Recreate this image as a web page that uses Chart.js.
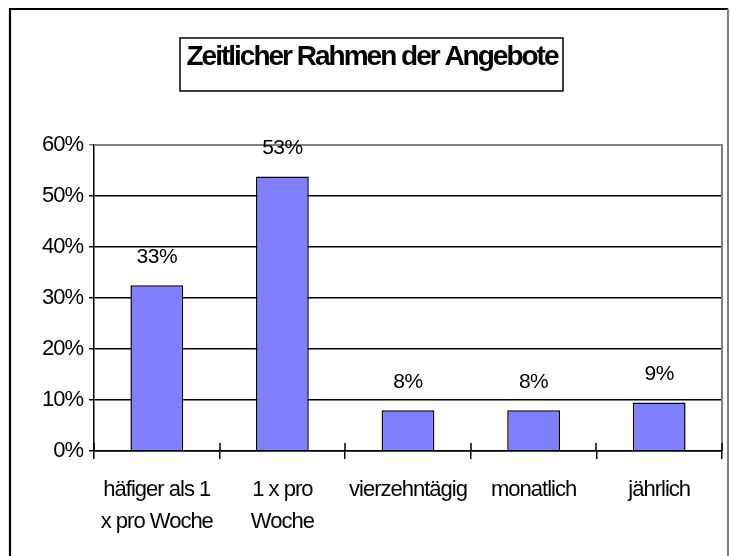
<!DOCTYPE html>
<html>
<head>
<meta charset="utf-8">
<script src="https://cdn.jsdelivr.net/npm/chart.js@4.4.0/dist/chart.umd.min.js"></script>
<style>
  body { margin: 0; background: #fff; }
  #wrap { width: 730px; height: 556px; position: relative; }
</style>
</head>
<body>
<div id="wrap"><canvas id="chart"></canvas></div>
<script>
const chartTitle = 'Zeitlicher Rahmen der Angebote';
const categories = [
    ['häfiger als 1', 'x pro Woche'],
    ['1 x pro', 'Woche'],
    'vierzehntägig',
    'monatlich',
    'jährlich'
];
const shares = [32.5, 53.8, 8, 8, 9.5];
const shareLabels = ['33%', '53%', '8%', '8%', '9%'];
const yTicks = [0, 10, 20, 30, 40, 50, 60];

const FONT = "'Liberation Sans', Arial, sans-serif";

// frame, title box and plot border
const decorPlugin = {
    id: 'decor',
    beforeDraw(chart) {
        const ctx = chart.ctx;
        ctx.letterSpacing = '-1px';
        ctx.save();
        ctx.fillStyle = '#fff';
        ctx.fillRect(0, 0, chart.width, chart.height);
        // outer frame
        ctx.lineWidth = 2.2;
        ctx.strokeStyle = '#000';
        ctx.beginPath();
        ctx.moveTo(10, 560);
        ctx.lineTo(10, 9);
        ctx.lineTo(728, 9);
        ctx.stroke();
        ctx.strokeStyle = '#808080';
        ctx.lineWidth = 2;
        ctx.beginPath();
        ctx.moveTo(728, 9);
        ctx.lineTo(728, 560);
        ctx.stroke();
        // title box
        ctx.strokeStyle = '#000';
        ctx.lineWidth = 1.5;
        ctx.strokeRect(180, 38, 383, 53);
        ctx.fillStyle = '#000';
        ctx.font = 'bold 28px ' + FONT;
        ctx.letterSpacing = '-2px';
        ctx.textAlign = 'center';
        ctx.textBaseline = 'middle';
        ctx.fillText(chartTitle, 372, 57);
        ctx.restore();
    },
    afterDraw(chart) {
        const ctx = chart.ctx;
        const a = chart.chartArea;
        const x = chart.scales.x;
        ctx.save();
        // plot border top and right
        ctx.strokeStyle = '#808080';
        ctx.lineWidth = 2;
        ctx.beginPath();
        ctx.moveTo(a.left, a.top);
        ctx.lineTo(a.right, a.top);
        ctx.lineTo(a.right, a.bottom);
        ctx.stroke();
        // upper part of the category tick marks
        const half = (x.getPixelForValue(1) - x.getPixelForValue(0)) / 2;
        ctx.strokeStyle = '#000';
        ctx.lineWidth = 1.5;
        ctx.beginPath();
        for (let i = 0; i <= categories.length; i++) {
            const px = Math.round(x.getPixelForValue(i) - half);
            ctx.moveTo(px, a.bottom);
            ctx.lineTo(px, a.bottom - 8);
        }
        ctx.stroke();
        // value labels
        const meta = chart.getDatasetMeta(0);
        ctx.font = '21px ' + FONT;
        ctx.letterSpacing = '-0.5px';
        ctx.fillStyle = '#000';
        ctx.textAlign = 'center';
        ctx.textBaseline = 'middle';
        meta.data.forEach((bar, i) => {
            ctx.fillText(shareLabels[i], bar.x, bar.y - 28);
        });
        ctx.restore();
    }
};

new Chart(document.getElementById('chart'), {
    type: 'bar',
    data: {
        labels: categories,
        datasets: [{
            data: shares,
            backgroundColor: '#8080FF',
            borderColor: '#000',
            borderWidth: 1.5,
            barPercentage: 0.42,
            categoryPercentage: 1
        }]
    },
    options: {
        responsive: true,
        maintainAspectRatio: false,
        animation: false,
        layout: { padding: { left: 0, right: 8, top: 145, bottom: 0 } },
        plugins: {
            legend: { display: false },
            tooltip: { enabled: false },
            title: { display: false }
        },
        scales: {
            x: {
                grid: {
                    offset: true,
                    drawOnChartArea: false,
                    drawTicks: true,
                    tickLength: 8,
                    color: '#000',
                    lineWidth: 1.5
                },
                border: { color: '#000', width: 1.5 },
                ticks: {
                    color: '#000',
                    padding: 15,
                    maxRotation: 0,
                    autoSkip: false,
                    font: { family: FONT, size: 22, lineHeight: 1.45 }
                },
                afterFit(scale) { scale.height = 105; }
            },
            y: {
                min: 0,
                max: 60,
                afterBuildTicks(scale) { scale.ticks = yTicks.map(v => ({ value: v })); },
                grid: {
                    color: ctx => ctx.tick && ctx.tick.value === 60 ? '#808080' : '#000',
                    lineWidth: 1.5,
                    tickLength: 5
                },
                border: { color: '#000', width: 1.5 },
                ticks: {
                    color: '#000',
                    padding: 6,
                    font: { family: FONT, size: 22 },
                    callback: v => v + '%'
                },
                afterFit(scale) { scale.width = 94; }
            }
        }
    },
    plugins: [decorPlugin]
});
</script>
</body>
</html>
